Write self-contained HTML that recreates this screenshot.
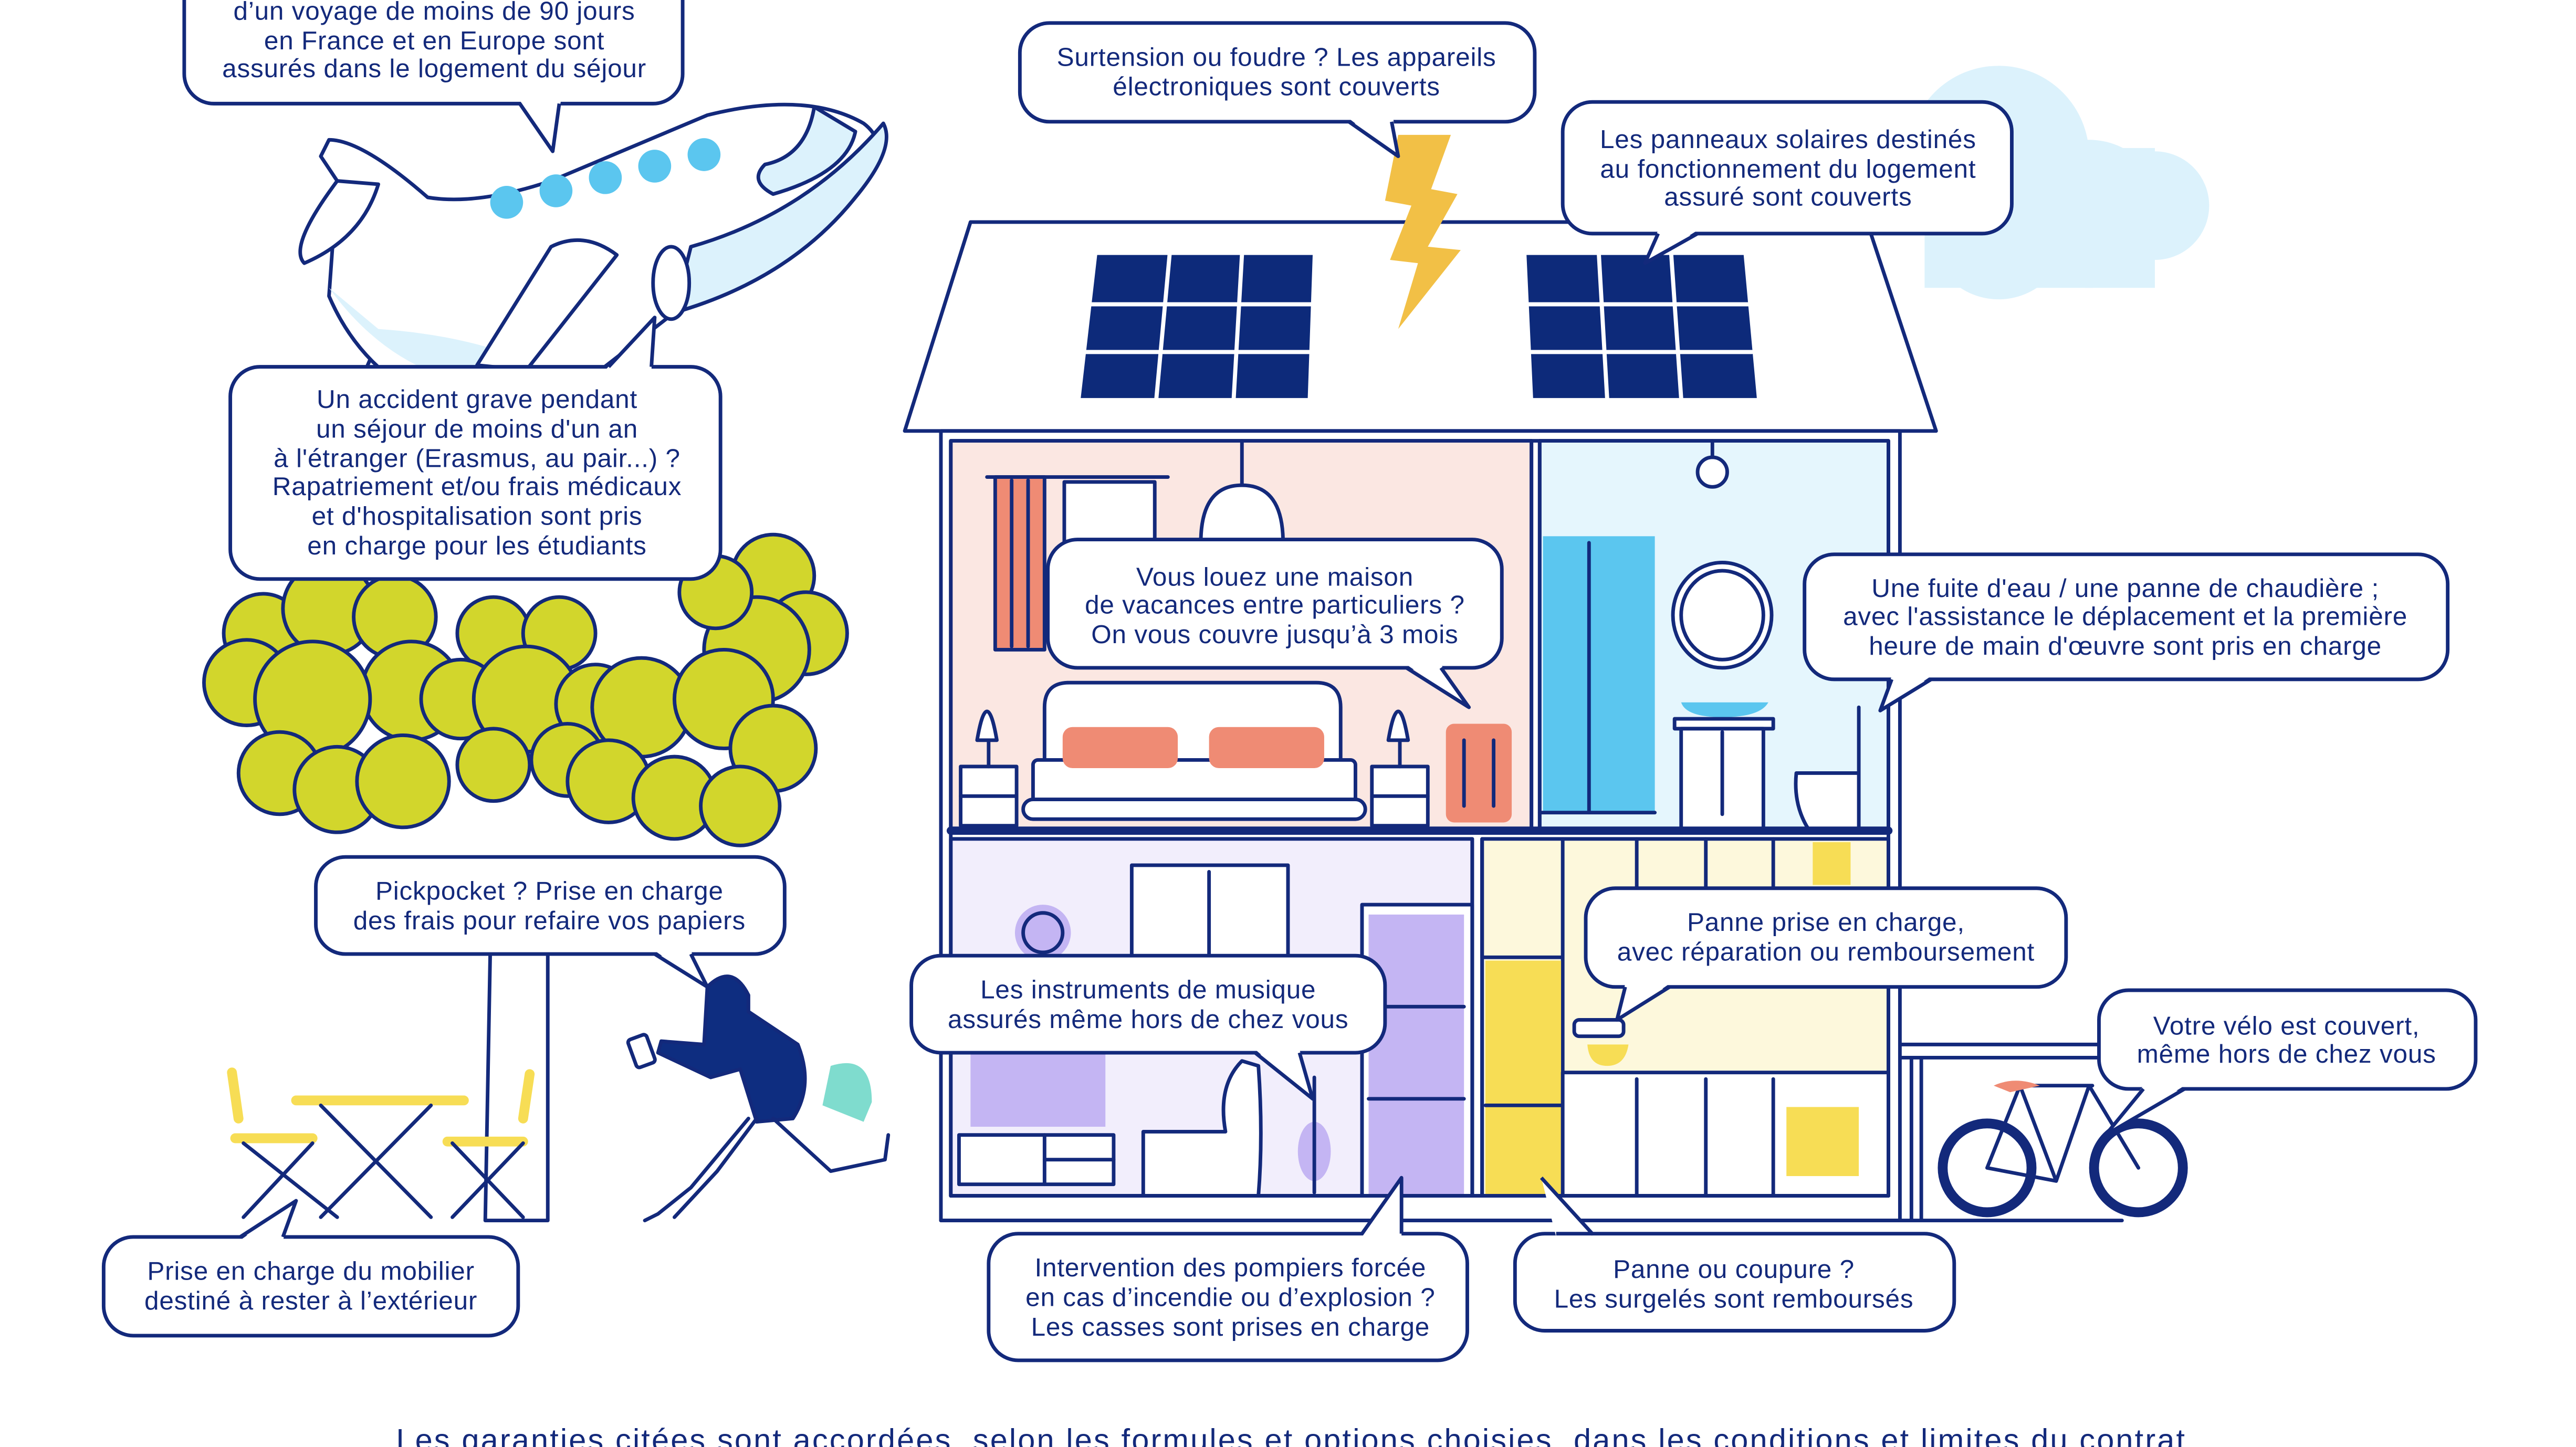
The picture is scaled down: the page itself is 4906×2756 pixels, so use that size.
<!DOCTYPE html>
<html><head><meta charset="utf-8"><style>
html,body{margin:0;padding:0;background:#fff;}
svg{display:block;}
text{font-family:"Liberation Sans",sans-serif;fill:#13297b;font-size:15.8px;letter-spacing:0.25px;text-anchor:middle;}
</style></head><body>
<svg width="4906" height="2756" viewBox="0 0 1566 879.7" preserveAspectRatio="none" xmlns="http://www.w3.org/2000/svg">
<g stroke="#13297b" stroke-width="2.2" stroke-linejoin="round" stroke-linecap="round">
<g fill="#dcf2fc" stroke="none">
<circle cx="1215" cy="95" r="55"/><circle cx="1270" cy="130" r="45"/><circle cx="1310" cy="125" r="33"/><circle cx="1215" cy="140" r="42"/><rect x="1170" y="90" width="140" height="85"/>
</g>
<path d="M220 230 L255 150 L300 150 L240 240 Z" fill="#fff"/>
<path d="M195 95 L205 110 L200 180 Q230 250 320 260 L410 190 Q480 170 520 120 Q545 90 525 75 Q490 55 430 70 L335 110 Q290 125 260 120 Q220 85 200 85 Z" fill="#fff"/>
<path d="M200 175 Q240 230 300 235 L340 230 Q300 205 230 200 Z" fill="#dcf2fc" stroke="none"/>
<path d="M410 190 Q480 170 520 120 Q545 90 537 75 Q490 130 420 150 Z" fill="#dcf2fc"/>
<path d="M495 65 Q490 95 465 100 Q455 110 470 118 Q515 105 520 80 Z" fill="#dcf2fc"/>
<path d="M290 222 L335 150 Q355 140 375 155 L320 225 Z" fill="#fff"/>
<ellipse cx="408" cy="172" rx="11" ry="22" fill="#fff"/>
<path d="M205 110 L230 112 Q220 145 185 160 Q175 150 205 110" fill="#fff"/>
<g fill="#5bc6ef" stroke="none"><circle cx="308" cy="123" r="10"/><circle cx="338" cy="116" r="10"/><circle cx="368" cy="108" r="10"/><circle cx="398" cy="101" r="10"/><circle cx="428" cy="94" r="10"/></g>
<path d="M298 580 L295 742 L333 742 L333 580" fill="#fff"/>
<path d="M270 520 L310 470 L325 470 L345 520 Z" fill="#fff" stroke="none"/>
<g fill="#d2d62c">
<circle cx="160" cy="385" r="24"/><circle cx="150" cy="415" r="26"/><circle cx="200" cy="370" r="28"/><circle cx="240" cy="375" r="25"/><circle cx="250" cy="420" r="30"/><circle cx="190" cy="425" r="35"/><circle cx="170" cy="470" r="25"/><circle cx="205" cy="480" r="26"/><circle cx="245" cy="475" r="28"/>
<circle cx="470" cy="350" r="25"/><circle cx="490" cy="385" r="25"/><circle cx="460" cy="395" r="32"/><circle cx="435" cy="360" r="22"/>
<circle cx="300" cy="385" r="22"/><circle cx="340" cy="385" r="22"/><circle cx="280" cy="425" r="24"/><circle cx="320" cy="425" r="32"/><circle cx="362" cy="428" r="24"/><circle cx="300" cy="465" r="22"/><circle cx="345" cy="462" r="22"/>
<circle cx="390" cy="430" r="30"/><circle cx="440" cy="425" r="30"/><circle cx="470" cy="455" r="26"/><circle cx="370" cy="475" r="25"/><circle cx="410" cy="485" r="25"/><circle cx="450" cy="490" r="24"/>
</g>
<g stroke="#f7dd55" stroke-width="6"><line x1="180" y1="669" x2="282" y2="669"/><line x1="143" y1="692" x2="190" y2="692"/><line x1="272" y1="694" x2="318" y2="694"/><line x1="141" y1="652" x2="145" y2="680"/><line x1="322" y1="653" x2="318" y2="680"/></g>
<g fill="none"><path d="M195 672 L262 740 M262 672 L195 740 M148 695 L205 740 M190 695 L148 740 M275 695 L318 740 M318 695 L275 740"/></g>
<path d="M505 648 Q530 640 530 670 L525 682 L500 672 Z" fill="#7fdcce" stroke="none"/>
<path d="M430 600 Q445 585 455 605 L455 615 L485 635 Q495 660 482 680 L460 682 L450 650 L432 655 L400 640 L402 633 L428 635 Z" fill="#0e2d80"/>
<path d="M455 680 L420 722 L400 738 L392 742 M470 680 L505 712 L538 705 L540 690 M460 680 L436 712 L410 740" fill="none"/>
<rect x="384" y="630" width="12" height="18" rx="2" fill="#fff" transform="rotate(-20 390 639)"/>
<path d="M550 262 L590 135 L1135 135 L1177 262 Z" fill="#fff"/>
<polygon points="667,155 798,155 795,242 657,242" fill="#0d2a7a" stroke="none"/>
<polygon points="928,155 1060,155 1068,242 932,242" fill="#0d2a7a" stroke="none"/>
<g stroke="#fff" stroke-width="2.5"><line x1="711" y1="155" x2="703" y2="242"/><line x1="755" y1="155" x2="750" y2="242"/><line x1="663" y1="185" x2="798" y2="185"/><line x1="660" y1="214" x2="796" y2="214"/>
<line x1="972" y1="155" x2="977" y2="242"/><line x1="1016" y1="155" x2="1022" y2="242"/><line x1="929" y1="185" x2="1063" y2="185"/><line x1="930" y1="214" x2="1065" y2="214"/></g>
<polygon points="850,82 882,82 870,115 886,118 868,150 888,152 850,200 862,160 845,158 858,125 842,122" fill="#f2c046" stroke="none"/>
<rect x="572" y="262" width="583" height="480" fill="#fff"/>
<rect x="578" y="268" width="353" height="237" fill="#fbe7e2"/>
<rect x="936" y="268" width="212" height="237" fill="#e5f6fd"/>
<rect x="578" y="510" width="317" height="217" fill="#f2eefc"/>
<rect x="901" y="510" width="247" height="217" fill="#fdf8dc"/>
<rect x="605" y="290" width="30" height="105" fill="#ef8b74"/>
<line x1="615" y1="292" x2="615" y2="393"/><line x1="625" y1="292" x2="625" y2="393"/>
<rect x="647" y="293" width="55" height="40" fill="#fff"/>
<line x1="600" y1="290" x2="710" y2="290"/>
<path d="M730 330 Q730 295 755 295 Q780 295 780 330 Z" fill="#fff"/><line x1="755" y1="268" x2="755" y2="295"/>
<path d="M635 465 L635 430 Q635 415 650 415 L800 415 Q815 415 815 430 L815 465 Z" fill="#fff"/>
<rect x="628" y="462" width="196" height="27" rx="3" fill="#fff"/>
<rect x="622" y="486" width="208" height="12" rx="6" fill="#fff"/>
<rect x="646" y="442" width="70" height="25" rx="6" fill="#ef8b74" stroke="none"/>
<rect x="735" y="442" width="70" height="25" rx="6" fill="#ef8b74" stroke="none"/>
<rect x="584" y="466" width="34" height="36" fill="#fff"/><rect x="834" y="466" width="34" height="36" fill="#fff"/>
<line x1="584" y1="484" x2="618" y2="484"/><line x1="834" y1="484" x2="868" y2="484"/>
<line x1="601" y1="450" x2="601" y2="466"/><line x1="851" y1="450" x2="851" y2="466"/>
<path d="M594 450 Q600 415 606 450 Z" fill="#fff"/><path d="M844 450 Q850 415 856 450 Z" fill="#fff"/>
<rect x="879" y="440" width="40" height="60" rx="5" fill="#ef8b74" stroke="none"/>
<line x1="890" y1="450" x2="890" y2="490"/><line x1="908" y1="450" x2="908" y2="490"/>
<rect x="938" y="326" width="68" height="168" fill="#5bc6ef" stroke="none"/>
<line x1="966" y1="330" x2="966" y2="494"/>
<line x1="936" y1="494" x2="1006" y2="494"/>
<ellipse cx="1047" cy="374" rx="30" ry="32" fill="#fff"/><ellipse cx="1047" cy="374" rx="25" ry="27" fill="#fff"/>
<circle cx="1041" cy="287" r="9" fill="#fff"/><line x1="1041" y1="268" x2="1041" y2="278"/>
<path d="M1022 427 L1075 427 Q1070 436 1047 436 Q1025 436 1022 427 Z" fill="#5bc6ef" stroke="none"/>
<rect x="1018" y="437" width="60" height="6" fill="#fff"/>
<rect x="1022" y="443" width="50" height="62" fill="#fff"/><line x1="1047" y1="445" x2="1047" y2="495"/>
<path d="M1130 430 L1130 505 L1100 505 Q1090 490 1092 470 L1130 470" fill="#fff"/>
<rect x="688" y="526" width="95" height="56" fill="#fff"/><line x1="735" y1="530" x2="735" y2="582"/>
<circle cx="634" cy="567" r="17" fill="#c4b5f3" stroke="none"/><circle cx="634" cy="567" r="12" fill="#c4b5f3"/>
<rect x="828" y="550" width="67" height="177" fill="#fff"/>
<rect x="832" y="556" width="58" height="170" fill="#c4b5f3" stroke="none"/>
<line x1="832" y1="612" x2="890" y2="612"/><line x1="832" y1="668" x2="890" y2="668"/>
<rect x="590" y="640" width="82" height="45" fill="#c4b5f3" stroke="none"/>
<rect x="583" y="690" width="94" height="30" fill="#fff"/><line x1="635" y1="690" x2="635" y2="720"/><line x1="635" y1="705" x2="677" y2="705"/>
<path d="M695 727 L695 688 L745 688 Q740 660 755 645 L765 648 Q768 690 765 727 Z" fill="#fff"/>
<ellipse cx="799" cy="700" rx="10" ry="18" fill="#c4b5f3" stroke="none"/><line x1="799" y1="655" x2="799" y2="725"/>
<path d="M901 510 L901 582 L950 582 L950 510 M950 510 L950 727 M995 510 L995 540 M1037 510 L1037 540 M1078 510 L1078 540" fill="none"/>
<rect x="1102" y="512" width="23" height="26" fill="#f7dd55" stroke="none"/>
<rect x="903" y="584" width="46" height="142" fill="#f7dd55" stroke="none"/>
<line x1="903" y1="672" x2="949" y2="672"/>
<rect x="950" y="652" width="198" height="75" fill="#fff"/>
<line x1="995" y1="656" x2="995" y2="727"/><line x1="1037" y1="656" x2="1037" y2="727"/><line x1="1078" y1="656" x2="1078" y2="727"/>
<rect x="1086" y="673" width="44" height="42" fill="#f7dd55" stroke="none"/>
<rect x="957" y="620" width="30" height="10" rx="3" fill="#fff"/>
<path d="M965 635 L990 635 Q988 648 977 648 Q966 648 965 635" fill="#f7dd55" stroke="none"/>
<line x1="578" y1="505" x2="1148" y2="505" stroke-width="5"/>
<line x1="931" y1="268" x2="931" y2="505"/><line x1="936" y1="268" x2="936" y2="505"/>
<line x1="895" y1="510" x2="895" y2="727"/><line x1="901" y1="510" x2="901" y2="727"/>
<line x1="572" y1="742" x2="1155" y2="742"/><line x1="578" y1="727" x2="1148" y2="727"/>
<rect x="578" y="268" width="570" height="459" fill="none"/>
<path d="M1155 635 L1290 635 M1155 643 L1290 643 M1162 643 L1162 742 M1168 643 L1168 742 M1155 742 L1290 742" fill="none"/>
<circle cx="1208" cy="710" r="27" fill="none" stroke-width="6"/>
<circle cx="1300" cy="710" r="27" fill="none" stroke-width="6"/>
<path d="M1208 710 L1228 660 L1250 718 L1270 660 L1300 710 M1225 660 L1272 660 M1208 710 L1250 718" fill="none"/>
<path d="M1212 660 Q1225 654 1240 660 L1222 664 Z" fill="#ef8b74" stroke="none"/>
</g>

<g fill="#fff" stroke="#13297b" stroke-width="2.2" stroke-linejoin="round">
<rect x="112" y="-25" width="303" height="88" rx="18"/>
<rect x="620" y="14" width="313" height="60" rx="18"/>
<rect x="950" y="62" width="273" height="80" rx="18"/>
<rect x="140" y="223" width="298" height="129" rx="18"/>
<rect x="637" y="328" width="276" height="78" rx="18"/>
<rect x="1097" y="337" width="391" height="76" rx="18"/>
<rect x="192" y="521" width="285" height="59" rx="18"/>
<rect x="554" y="581" width="288" height="59" rx="18"/>
<rect x="964" y="540" width="292" height="60" rx="18"/>
<rect x="1276" y="602" width="229" height="60" rx="18"/>
<rect x="63" y="752" width="252" height="60" rx="18"/>
<rect x="601" y="750" width="291" height="77" rx="18"/>
<rect x="921" y="750" width="267" height="59" rx="18"/>
</g>
<g fill="#fff" stroke="none">
<polygon points="316,61 336,92 341,61"/><polygon points="820,72 850,95 847,72"/><polygon points="1008,140 1000,160 1032,140"/>
<polygon points="368,225 398,193 396,225"/><polygon points="855,404 893,430 876,404"/><polygon points="1150,411 1143,432 1174,411"/>
<polygon points="398,578 430,600 420,578"/><polygon points="763,638 798,668 790,638"/><polygon points="988,598 983,620 1015,598"/>
<polygon points="1303,660 1280,690 1328,660"/><polygon points="146,754 180,730 172,754"/><polygon points="828,752 852,716 852,752"/><polygon points="937,716 968,752 946,752"/>
</g>
<g fill="none" stroke="#13297b" stroke-width="2.2" stroke-linejoin="round">
<polyline points="316,63 336,92 340,63"/><polyline points="820,74 850,95 846,74"/><polyline points="1008,142 1000,160 1032,142"/>
<polyline points="370,223 398,193 396,223"/><polyline points="855,406 893,430 876,406"/><polyline points="1150,413 1143,432 1174,413"/>
<polyline points="398,580 430,600 420,580"/><polyline points="763,640 798,668 790,640"/><polyline points="988,600 983,620 1015,600"/>
<polyline points="1303,662 1280,690 1328,662"/><polyline points="146,752 180,730 172,752"/><polyline points="828,750 852,716 852,750"/><polyline points="937,716 968,750 946,750"/>
</g>

<g>
<text x="264" y="12">d’un voyage de moins de 90 jours</text><text x="264" y="30">en France et en Europe sont</text><text x="264" y="47">assurés dans le logement du séjour</text>
<text x="776" y="40">Surtension ou foudre ? Les appareils</text><text x="776" y="58">électroniques sont couverts</text>
<text x="1087" y="90">Les panneaux solaires destinés</text><text x="1087" y="108">au fonctionnement du logement</text><text x="1087" y="125">assuré sont couverts</text>
<text x="290" y="248">Un accident grave pendant</text><text x="290" y="266">un séjour de moins d'un an</text><text x="290" y="284">à l'étranger (Erasmus, au pair...) ?</text><text x="290" y="301">Rapatriement et/ou frais médicaux</text><text x="290" y="319">et d'hospitalisation sont pris</text><text x="290" y="337">en charge pour les étudiants</text>
<text x="775" y="356">Vous louez une maison</text><text x="775" y="373">de vacances entre particuliers ?</text><text x="775" y="391">On vous couvre jusqu’à 3 mois</text>
<text x="1292" y="363">Une fuite d'eau / une panne de chaudière ;</text><text x="1292" y="380">avec l'assistance le déplacement et la première</text><text x="1292" y="398">heure de main d'œuvre sont pris en charge</text>
<text x="334" y="547">Pickpocket ? Prise en charge</text><text x="334" y="565">des frais pour refaire vos papiers</text>
<text x="698" y="607">Les instruments de musique</text><text x="698" y="625">assurés même hors de chez vous</text>
<text x="1110" y="566">Panne prise en charge,</text><text x="1110" y="584">avec réparation ou remboursement</text>
<text x="1390" y="629">Votre vélo est couvert,</text><text x="1390" y="646">même hors de chez vous</text>
<text x="189" y="778">Prise en charge du mobilier</text><text x="189" y="796">destiné à rester à l’extérieur</text>
<text x="748" y="776">Intervention des pompiers forcée</text><text x="748" y="794">en cas d’incendie ou d’explosion ?</text><text x="748" y="812">Les casses sont prises en charge</text>
<text x="1054" y="777">Panne ou coupure ?</text><text x="1054" y="795">Les surgelés sont remboursés</text>
<text x="785" y="882" style="font-size:19px;letter-spacing:1px">Les garanties citées sont accordées, selon les formules et options choisies, dans les conditions et limites du contrat</text>
</g>
</svg>
</body></html>
